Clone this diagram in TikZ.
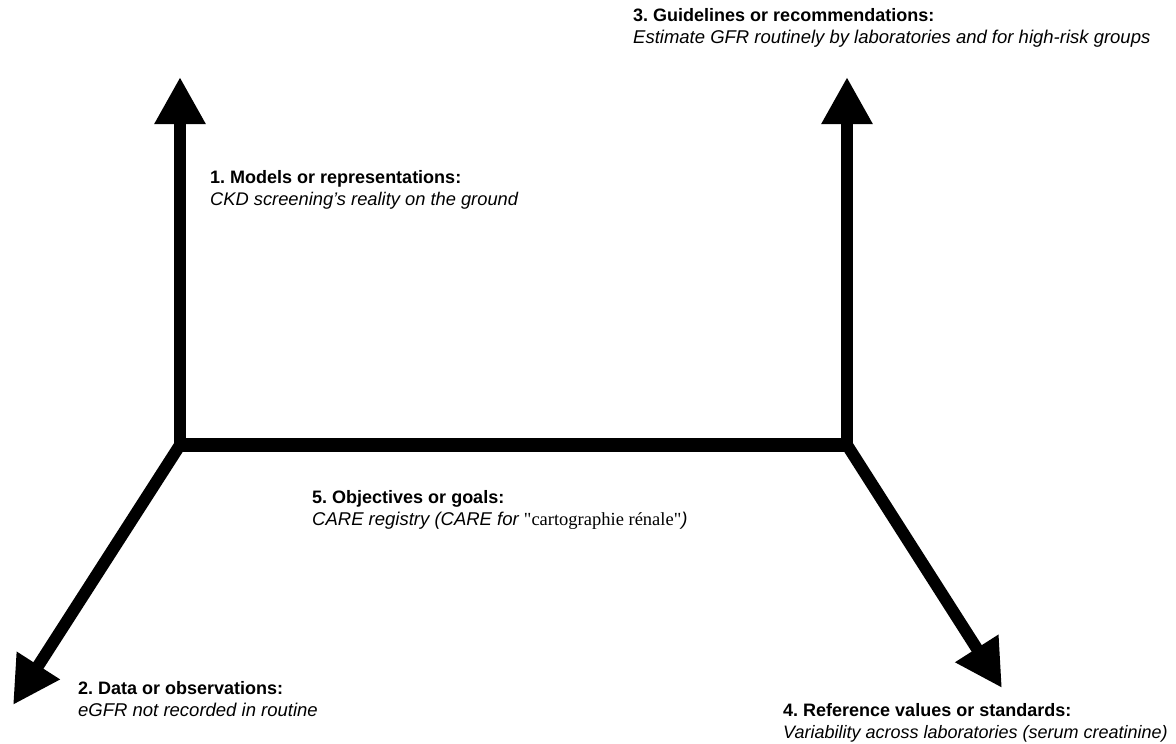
\documentclass[tikz,border=0pt]{standalone}
\usepackage{fontspec}
\setmainfont{Liberation Sans}
\newfontfamily\timesfont{Liberation Serif}
\usetikzlibrary{arrows.meta}
\newcommand{\itline}[2][18.5]{{\fontsize{#1}{22.5}\selectfont\itshape #2}}
\tikzset{
  shaft/.style={line width=12pt, -{Triangle[width=48pt,length=47pt]}},
  bar/.style={line width=14pt, line cap=square},
  lbl/.style={anchor=north west, inner sep=0pt, align=left,
              font=\fontsize{18}{22.5}\selectfont\frenchspacing}
}
\begin{document}
\begin{tikzpicture}[x=1pt,y=-1pt]
\useasboundingbox (0,0) rectangle (1176,744);
\coordinate (L) at (180,445);
\coordinate (R) at (847,445);
\coordinate (LT) at (180,77);
\coordinate (RT) at (847,77);
\coordinate (DL) at (13,705);
\coordinate (DR) at (1002,688);
\draw[bar] (L) -- (R);
\draw[shaft] (L) -- (LT);
\draw[shaft] (R) -- (RT);
\draw[shaft] (L) -- (DL);
\draw[shaft] (R) -- (DR);
\node[lbl] (m1) at (210,170) {\textbf{1. Models or representations:}\\\itline[18.3]{CKD screening’s reality on the ground}};
\node[lbl] (m2) at (78,681) {\textbf{2. Data or observations:}\\\itline{eGFR not recorded in routine}};
\node[lbl] (m3) at (633,8) {\textbf{3. Guidelines or recommendations:}\\\itline{Estimate GFR routinely by laboratories and for high-risk groups}};
\node[lbl] (m4) at (783,703) {\textbf{4. Reference values or standards:}\\\itline[18]{Variability across laboratories (serum creatinine)}};
\node[lbl] (m5) at (312,490) {\textbf{5. Objectives or goals:}\\\itline{CARE registry (CARE for }{\fontsize{18.5}{22.5}\timesfont "cartographie rénale"}\itline{)}};
\end{tikzpicture}
\end{document}
